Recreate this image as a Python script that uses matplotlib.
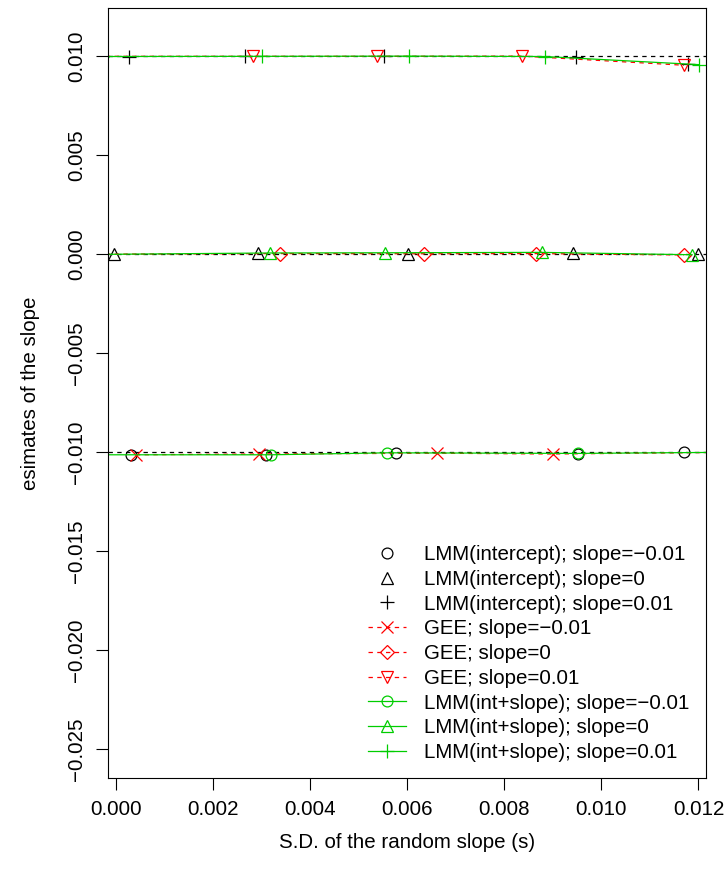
import matplotlib
matplotlib.use("Agg")
import matplotlib.pyplot as plt

plt.rcParams["font.family"] = ["Liberation Sans", "DejaVu Sans"]

# true slopes (reference lines)
true_slopes = [-0.01, 0.0, 0.01]

# LMM with random intercept only
lmm_int_neg_x = [0.00029, 0.00309, 0.00577, 0.00952, 0.01170]
lmm_int_neg_y = [-0.01012, -0.01011, -0.01004, -0.01006, -0.01000]
lmm_int_zero_x = [-0.00005, 0.00292, 0.00601, 0.00941, 0.01198]
lmm_int_zero_y = [0.00003, 0.00006, 0.00004, 0.00005, 0.00002]
lmm_int_pos_x = [0.00026, 0.00264, 0.00552, 0.00947, 0.01178]
lmm_int_pos_y = [0.00999, 0.01000, 0.01000, 0.00999, 0.00963]

# GEE
gee_neg_x = [0.00040, 0.00293, 0.00660, 0.00900, 0.01240]
gee_neg_y = [-0.01012, -0.01008, -0.01004, -0.01008, -0.01000]
gee_zero_x = [-0.00040, 0.00337, 0.00635, 0.00864, 0.01170]
gee_zero_y = [0.00001, 0.00004, 0.00003, 0.00004, -0.00003]
gee_pos_x = [-0.00040, 0.00282, 0.00538, 0.00837, 0.01170]
gee_pos_y = [0.01000, 0.01000, 0.01000, 0.01001, 0.00955]

# LMM with random intercept and slope
lmm_is_neg_x = [-0.00030, 0.00319, 0.00558, 0.00951, 0.01230]
lmm_is_neg_y = [-0.01012, -0.01012, -0.01002, -0.01005, -0.01000]
lmm_is_zero_x = [-0.00030, 0.00316, 0.00554, 0.00877, 0.01187]
lmm_is_zero_y = [0.00000, 0.00007, 0.00008, 0.00010, -0.00002]
lmm_is_pos_x = [-0.00030, 0.00301, 0.00603, 0.00883, 0.01201]
lmm_is_pos_y = [0.00999, 0.01000, 0.01001, 0.00999, 0.00958]

x_ticks = [0.000, 0.002, 0.004, 0.006, 0.008, 0.010, 0.012]
y_ticks = [-0.025, -0.020, -0.015, -0.010, -0.005, 0.000, 0.005, 0.010]

RED = "#FF0000"
GREEN = "#00CD00"
DASH = (0, (3.5, 3.5))

fig = plt.figure(figsize=(7.27, 8.81), dpi=100)
ax = fig.add_axes([108 / 727, 1 - 778 / 881, 598 / 727, 770 / 881])

for t in true_slopes:
    ax.axhline(t, color="black", lw=0.9, linestyle=DASH, zorder=1)

lw = 0.9
fs = 14.8

ax.plot(lmm_int_neg_x, lmm_int_neg_y, linestyle="none", marker="o", ms=7.8,
        mfc="none", mec="black", mew=lw, label="LMM(intercept); slope=\u22120.01")
ax.plot(lmm_int_zero_x, lmm_int_zero_y, linestyle="none", marker="^", ms=8.6,
        mfc="none", mec="black", mew=lw, label="LMM(intercept); slope=0")
ax.plot(lmm_int_pos_x, lmm_int_pos_y, linestyle="none", marker="+", ms=9.6,
        mec="black", mew=lw, label="LMM(intercept); slope=0.01")

ax.plot(gee_neg_x, gee_neg_y, color=RED, lw=lw, linestyle=DASH, marker="x",
        ms=8.0, mew=lw, label="GEE; slope=\u22120.01")
ax.plot(gee_zero_x, gee_zero_y, color=RED, lw=lw, linestyle=DASH, marker="D",
        ms=6.8, mfc="none", mew=lw, label="GEE; slope=0")
ax.plot(gee_pos_x, gee_pos_y, color=RED, lw=lw, linestyle=DASH, marker="v",
        ms=8.6, mfc="none", mew=lw, label="GEE; slope=0.01")

ax.plot(lmm_is_neg_x, lmm_is_neg_y, color=GREEN, lw=lw, marker="o", ms=7.8,
        mfc="none", mew=lw, label="LMM(int+slope); slope=\u22120.01")
ax.plot(lmm_is_zero_x, lmm_is_zero_y, color=GREEN, lw=lw, marker="^", ms=8.6,
        mfc="none", mew=lw, label="LMM(int+slope); slope=0")
ax.plot(lmm_is_pos_x, lmm_is_pos_y, color=GREEN, lw=lw, marker="+", ms=9.6,
        mew=lw, label="LMM(int+slope); slope=0.01")

ax.set_xlim(-0.000175, 0.012155)
ax.set_ylim(-0.02644, 0.01244)

ax.set_xticks(x_ticks)
ax.set_xticklabels([f"{v:.3f}" for v in x_ticks])
ax.set_yticks(y_ticks)
ax.set_yticklabels([f"{v:.3f}".replace("-", "\u2212") for v in y_ticks],
                   rotation=90, va="center")
ax.tick_params(axis="both", direction="out", length=8.5, width=0.8,
               labelsize=fs, colors="black")
ax.tick_params(axis="x", pad=7)
ax.tick_params(axis="y", pad=7.5)

for sp in ax.spines.values():
    sp.set_linewidth(0.8)
    sp.set_color("black")

ax.set_xlabel("S.D. of the random slope (s)", fontsize=fs)
ax.xaxis.set_label_coords(0.5, (778 - 842) / 770)
ax.xaxis.label.set_va("center")
ax.set_ylabel("esimates of the slope", fontsize=fs)
ax.yaxis.set_label_coords((31 - 108) / 598, 0.5)
ax.yaxis.label.set_va("center")

ax.legend(loc="upper left", bbox_to_anchor=(368 / 727, 1 - 545 / 881),
          bbox_transform=fig.transFigure, frameon=False, fontsize=fs,
          handlelength=1.85, handletextpad=0.85, labelspacing=0.28,
          borderpad=0, borderaxespad=0)

fig.savefig("out.png", dpi=100)
